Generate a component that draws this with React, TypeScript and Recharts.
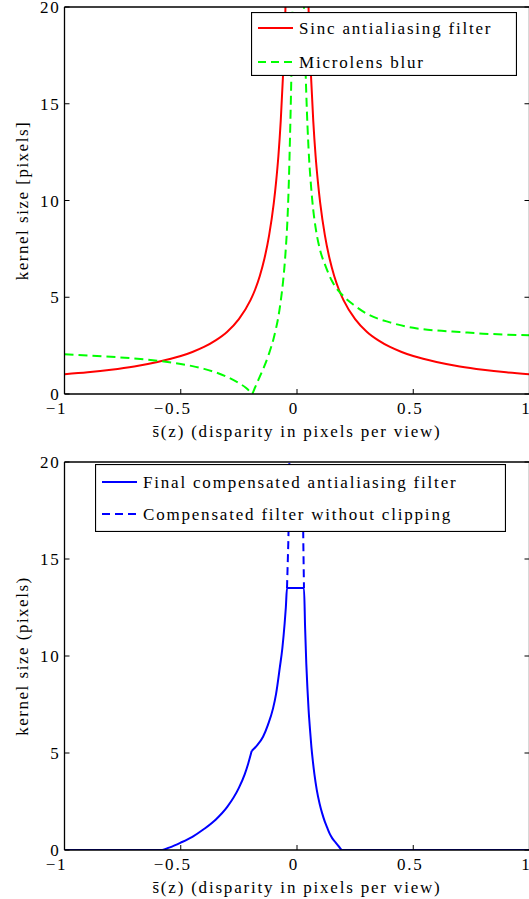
import React from 'react';
import { LineChart, Line, XAxis, YAxis, Label } from 'recharts';

// ---------- ticks ----------
const xTickValues = [-1, -0.5, 0, 0.5, 1];
const xTickLabels = ['\u22121', '\u22120.5', '0', '0.5', '1'];
const yTickValues = [0, 5, 10, 15, 20];
const yTickLabels = ['0', '5', '10', '15', '20'];

// ---------- top chart: Sinc antialiasing filter ----------
const sincS = [-1, -0.9, -0.8, -0.7, -0.6, -0.5, -0.45, -0.4, -0.35, -0.3, -0.25, -0.2, -0.18, -0.16, -0.14, -0.12, -0.1, -0.09, -0.08, -0.07, -0.06, -0.05, -0.04, 0, 0.04, 0.05, 0.06, 0.07, 0.08, 0.09, 0.1, 0.12, 0.14, 0.16, 0.18, 0.2, 0.25, 0.3, 0.35, 0.4, 0.45, 0.5, 0.6, 0.7, 0.8, 0.9, 1];
const sincK = [1.02, 1.12, 1.25, 1.42, 1.65, 1.96, 2.17, 2.43, 2.77, 3.22, 3.87, 4.85, 5.4, 6.1, 7.0, 8.2, 9.85, 10.95, 12.3, 14.1, 16.5, 19.8, 24.8, null, 24.8, 19.8, 16.5, 14.1, 12.3, 10.95, 9.85, 8.2, 7.0, 6.1, 5.4, 4.85, 3.87, 3.22, 2.77, 2.43, 2.17, 1.96, 1.65, 1.42, 1.25, 1.12, 1.02];

// ---------- top chart: Microlens blur ----------
const blurS = [-1, -0.9, -0.8, -0.7, -0.6, -0.5, -0.45, -0.4, -0.35, -0.3, -0.25, -0.22, -0.2, -0.195, -0.18, -0.16, -0.14, -0.12, -0.1, -0.09, -0.08, -0.07, -0.06, -0.05, -0.04, -0.035, -0.03, -0.025, -0.02, -0.015, 0, 0.025, 0.03, 0.035, 0.04, 0.05, 0.06, 0.07, 0.08, 0.1, 0.12, 0.15, 0.2, 0.25, 0.3, 0.4, 0.5, 0.6, 0.7, 0.8, 0.9, 1];
const blurK = [2.05, 1.99, 1.92, 1.84, 1.72, 1.55, 1.44, 1.3, 1.12, 0.88, 0.56, 0.32, 0.08, 0, 0.35, 0.9, 1.45, 2.1, 2.9, 3.4, 4.0, 4.8, 5.8, 7.2, 9.3, 11.0, 13.3, 16.0, 19.5, 25, null, 24, 20, 17.5, 15.5, 12.6, 10.8, 9.5, 8.6, 7.4, 6.7, 5.85, 5.05, 4.55, 4.15, 3.7, 3.42, 3.28, 3.2, 3.12, 3.07, 3.03];

// ---------- bottom chart: Final compensated antialiasing filter (two pieces, kink at -0.195) ----------
const finalLowS = [-1, -0.8, -0.58, -0.55, -0.5, -0.45, -0.4, -0.35, -0.3, -0.25, -0.225, -0.21, -0.195];
const finalLowK = [0, 0, 0, 0.12, 0.38, 0.68, 1.08, 1.56, 2.22, 3.2, 3.9, 4.45, 5.1];
const finalHighS = [-0.195, -0.17, -0.146, -0.125, -0.103, -0.09, -0.074, -0.063, -0.053, -0.048, -0.043, 0.03, 0.035, 0.04, 0.045, 0.05, 0.056, 0.062, 0.068, 0.075, 0.085, 0.097, 0.108, 0.12, 0.13, 0.14, 0.152, 0.165, 0.18, 0.194, 0.5, 1];
const finalHighK = [5.1, 5.42, 5.84, 6.45, 7.3, 8.05, 9.4, 10.4, 11.7, 12.5, 13.5, 13.5, 11.4, 9.6, 8.3, 7.2, 6.2, 5.3, 4.6, 3.9, 3.1, 2.4, 1.9, 1.45, 1.15, 0.86, 0.6, 0.4, 0.18, 0, 0, 0];

// ---------- bottom chart: Compensated filter without clipping ----------
const unclippedS = [-0.043, -0.037, -0.032, 0, 0.024, 0.027, 0.03];
const unclippedK = [13.5, 16, 20.5, null, 20.5, 16, 13.5];

const toData = (xs: number[], ks: (number | null)[]) => xs.map((s, i) => ({ s, k: ks[i] }));
const sincData = toData(sincS, sincK);
const blurData = toData(blurS, blurK);
const finalLowData = toData(finalLowS, finalLowK);
const finalHighData = toData(finalHighS, finalHighK);
const unclippedData = toData(unclippedS, unclippedK);

const FONT = 'Liberation Serif, DejaVu Serif, Times New Roman, serif';
const FS = 17;
const LS = 1.8;
const tp = { fontFamily: FONT, fontSize: FS, letterSpacing: LS, fill: '#000' } as const;

const xLabelFor = (v: number) => xTickLabels[xTickValues.indexOf(v)] ?? String(v);
const yLabelFor = (v: number) => yTickLabels[yTickValues.indexOf(v)] ?? String(v);

const BottomTick = (props: any) => {
  const { x, y, payload } = props;
  const v = payload.value as number;
  const dx = v < 0 ? -8 : -3;
  return (
    <g>
      <line x1={x} x2={x} y1={y} y2={y - 5} stroke="#000" strokeWidth={1} />
      <text x={x + dx} y={y + 20} textAnchor="middle" {...tp}>{xLabelFor(v)}</text>
    </g>
  );
};
const TopTick = (props: any) => {
  const { x, y } = props;
  return <line x1={x} x2={x} y1={y} y2={y + 5} stroke="#000" strokeWidth={1} />;
};
const LeftTick = (props: any) => {
  const { x, y, payload } = props;
  return (
    <g>
      <line x1={x} x2={x + 5} y1={y} y2={y} stroke="#000" strokeWidth={1} />
      <text x={x - 4} y={y + 6} textAnchor="end" {...tp}>{yLabelFor(payload.value)}</text>
    </g>
  );
};
const RightTick = (props: any) => {
  const { x, y } = props;
  return <line x1={x} x2={x - 5} y1={y} y2={y} stroke="#000" strokeWidth={1} />;
};

const XTitle = (props: any) => {
  const vb = props.viewBox || {};
  return (
    <text x={vb.x + vb.width / 2} y={vb.y + 42.5} textAnchor="middle" {...tp}>
      {'s\u0304(z) (disparity in pixels per view)'}
    </text>
  );
};
const makeYTitle = (label: string) => (props: any) => {
  const vb = props.viewBox || {};
  const cx = 22;
  const cy = vb.y + vb.height / 2;
  return (
    <text x={cx} y={cy} transform={`rotate(-90, ${cx}, ${cy})`} textAnchor="middle" dominantBaseline="central" {...tp} letterSpacing={1.5}>
      {label}
    </text>
  );
};

const CW = 560;
const CH = 450;

function Panel({ children, yTitle, bottom }: { children: React.ReactNode; yTitle: string; bottom: number }) {
  return (
    <LineChart width={CW} height={CH} margin={{ top: 2, right: 25.5, bottom, left: 20.5 }}>
      <XAxis
        xAxisId="b"
        dataKey="s"
        type="number"
        domain={[-1, 1]}
        allowDataOverflow
        ticks={xTickValues}
        interval={0}
        height={40}
        tickSize={0}
        tickMargin={0}
        tickLine={false}
        axisLine={{ stroke: '#000', strokeWidth: 1.3 }}
        tick={<BottomTick />}
        label={<Label content={<XTitle />} />}
      />
      <XAxis
        xAxisId="t"
        orientation="top"
        type="number"
        domain={[-1, 1]}
        allowDataOverflow
        ticks={xTickValues}
        interval={0}
        height={5}
        tickSize={0}
        tickMargin={0}
        tickLine={false}
        axisLine={{ stroke: '#000', strokeWidth: 1.3 }}
        tick={<TopTick />}
      />
      <YAxis
        yAxisId="l"
        type="number"
        domain={[0, 20]}
        allowDataOverflow
        ticks={yTickValues}
        interval={0}
        width={44}
        tickSize={0}
        tickMargin={0}
        tickLine={false}
        axisLine={{ stroke: '#000', strokeWidth: 1.3 }}
        tick={<LeftTick />}
        label={<Label content={makeYTitle(yTitle)} />}
      />
      <YAxis
        yAxisId="r"
        orientation="right"
        type="number"
        domain={[0, 20]}
        allowDataOverflow
        ticks={yTickValues}
        interval={0}
        width={5}
        tickSize={0}
        tickMargin={0}
        tickLine={false}
        axisLine={{ stroke: '#000', strokeWidth: 1.3 }}
        tick={<RightTick />}
      />
      {children}
    </LineChart>
  );
}

function LegendBox({ left, top, width, height, rows }: { left: number; top: number; width: number; height: number; rows: { y: number; color: string; dash?: string; text: string }[] }) {
  return (
    <svg width={width} height={height} style={{ position: 'absolute', left, top }}>
      <rect x={0.5} y={0.5} width={width - 1} height={height - 1} fill="#fff" stroke="#000" strokeWidth={1.2} />
      {rows.map((r, i) => (
        <g key={i}>
          <line x1={7} x2={42} y1={r.y} y2={r.y} stroke={r.color} strokeWidth={2} strokeDasharray={r.dash} />
          <text x={48} y={r.y + 6} {...tp}>{r.text}</text>
        </g>
      ))}
    </svg>
  );
}

const lineCommon = { xAxisId: 'b', yAxisId: 'l', dataKey: 'k', dot: false, activeDot: false, isAnimationActive: false, connectNulls: false, strokeWidth: 2 } as const;

export default function App() {
  return (
    <div style={{ position: 'absolute', left: 0, top: 0, width: 529, height: 899, overflow: 'hidden', background: '#fff' }}>
      <div style={{ position: 'absolute', left: 0, top: 0 }}>
        <Panel yTitle="kernel size [pixels]" bottom={16}>
          <Line {...lineCommon} data={sincData} type="monotone" stroke="#ff0000" />
          <Line {...lineCommon} data={blurData} type="monotone" stroke="#00ff00" strokeDasharray="9 5" />
        </Panel>
      </div>
      <div style={{ position: 'absolute', left: 0, top: 455 }}>
        <Panel yTitle="kernel size (pixels)" bottom={15}>
          <Line {...lineCommon} data={unclippedData} type="linear" stroke="#0000ff" strokeDasharray="8 5" />
          <Line {...lineCommon} data={finalLowData} type="monotone" stroke="#0000ff" />
          <Line {...lineCommon} data={finalHighData} type="monotone" stroke="#0000ff" />
        </Panel>
      </div>
      <LegendBox
        left={251}
        top={12}
        width={266}
        height={64}
        rows={[
          { y: 16, color: '#ff0000', text: 'Sinc antialiasing filter' },
          { y: 50, color: '#00ff00', dash: '8 5', text: 'Microlens blur' },
        ]}
      />
      <LegendBox
        left={95}
        top={464}
        width={411}
        height={68}
        rows={[
          { y: 18, color: '#0000ff', text: 'Final compensated antialiasing filter' },
          { y: 50, color: '#0000ff', dash: '8 5', text: 'Compensated filter without clipping' },
        ]}
      />
    </div>
  );
}
